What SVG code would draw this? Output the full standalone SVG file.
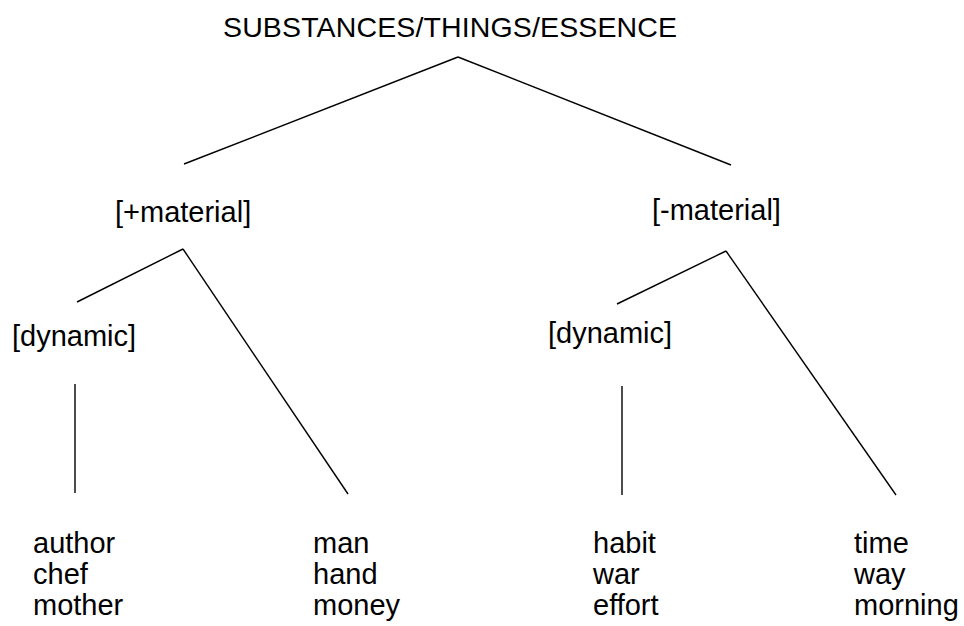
<svg xmlns="http://www.w3.org/2000/svg" width="964" height="626" viewBox="0 0 964 626">
<style>
text{font-family:"Liberation Sans",Arial,sans-serif;font-size:29px;fill:#000}
.c line{stroke:#000;stroke-width:1.4;fill:none}
</style>
<rect width="964" height="626" fill="#fff"/>
<g id="root"><text x="223" y="37" textLength="454" style="font-size:28.5px">SUBSTANCES/THINGS/ESSENCE</text></g>
<g id="plus-material"><text x="115" y="222">[+material]</text></g>
<g id="minus-material"><text x="652" y="220">[-material]</text></g>
<g id="dynamic-left"><text x="12" y="346">[dynamic]</text></g>
<g id="dynamic-right"><text x="548" y="343">[dynamic]</text></g>
<g id="leaf1"><text x="33" y="553">author</text><text x="33" y="584">chef</text><text x="33" y="615">mother</text></g>
<g id="leaf2"><text x="313" y="553">man</text><text x="313" y="584">hand</text><text x="313" y="615">money</text></g>
<g id="leaf3"><text x="593" y="553">habit</text><text x="593" y="584">war</text><text x="593" y="615">effort</text></g>
<g id="leaf4"><text x="854" y="553">time</text><text x="854" y="584">way</text><text x="854" y="615">morning</text></g>
<g id="connectors" class="c">
<line x1="184" y1="164" x2="458" y2="57"/>
<line x1="458" y1="57" x2="731" y2="165"/>
<line x1="77" y1="302" x2="183" y2="249"/>
<line x1="183" y1="249" x2="348" y2="494"/>
<line x1="75" y1="384" x2="75" y2="493"/>
<line x1="617" y1="304" x2="726" y2="251"/>
<line x1="726" y1="251" x2="896" y2="495"/>
<line x1="622" y1="386" x2="622" y2="495"/>
</g>
</svg>
